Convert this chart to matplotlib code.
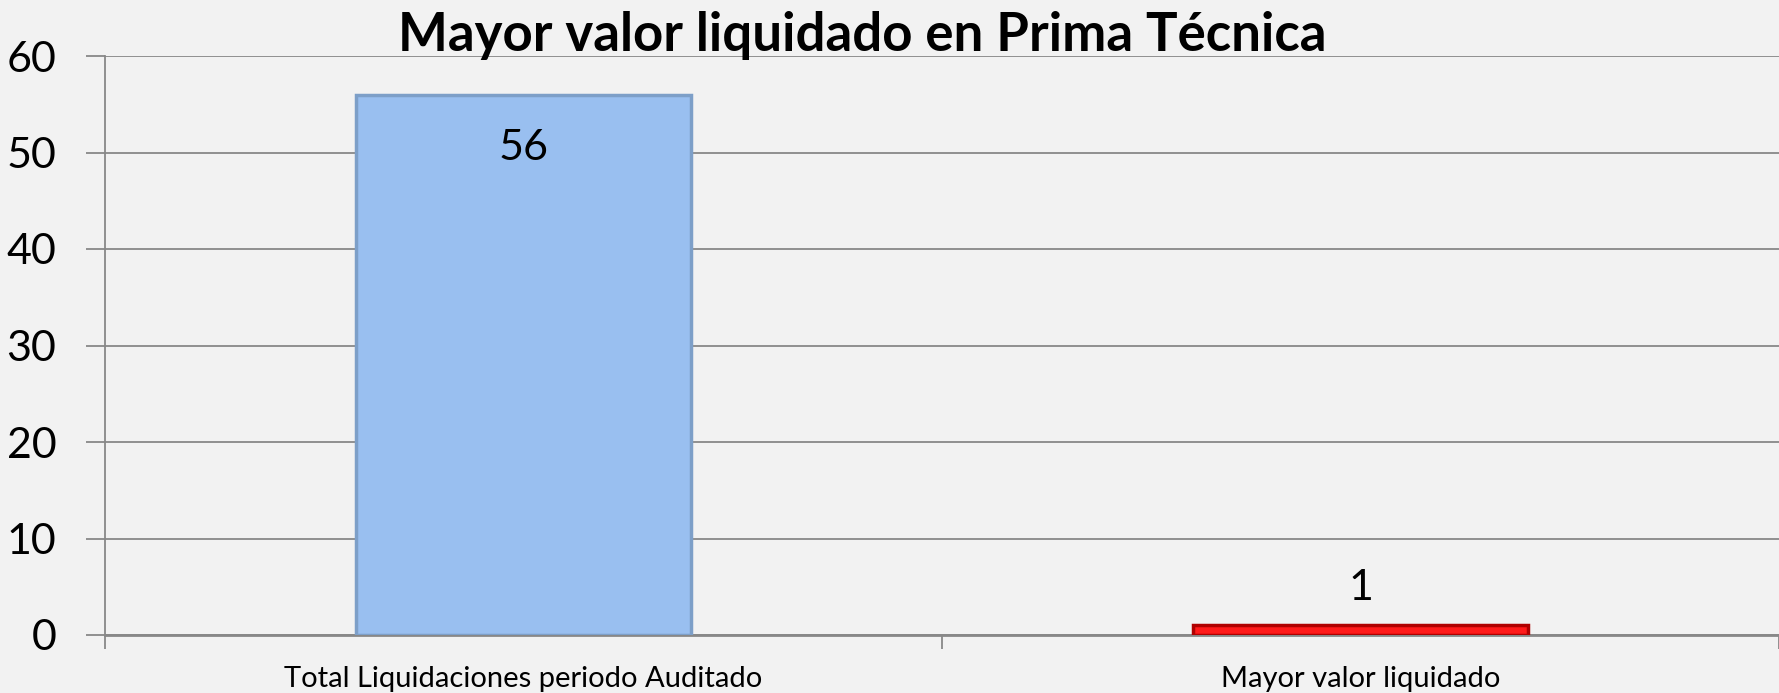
import matplotlib.pyplot as plt
import numpy as np

categorias = ['Total Liquidaciones periodo Auditado', 'Mayor valor liquidado']
valores = [56, 1]
colores = ['#99bff0', '#ff1a1a']
bordes = ['#7d9fc8', '#b00000']

plt.rcParams['font.family'] = ['Lato', 'DejaVu Sans']

fig = plt.figure(figsize=(17.79, 6.93), dpi=100)
fig.patch.set_facecolor('#f2f2f2')
ax = fig.add_axes([105/1779, 1-635/693, 1-105/1779, (635-56)/693])
ax.set_facecolor('#f2f2f2')

x = np.arange(len(categorias))
barras = ax.bar(x, valores, width=0.4, color=colores, edgecolor=bordes, linewidth=2.5, zorder=3)

# etiquetas de datos
ax.text(x[0], valores[0] - 5.5, str(valores[0]), ha='center', va='center', fontsize=31, zorder=4)
ax.text(x[1], valores[1] + 3.9, str(valores[1]), ha='center', va='center', fontsize=31, zorder=4)

ax.set_xlim(-0.5, 1.5)
ax.set_ylim(0, 60)
ax.set_yticks(range(0, 61, 10))
ax.tick_params(axis='y', labelsize=31, length=14, color='#888888', pad=21, width=1.3)
ax.set_xticks([-0.5, 0.5, 1.5])
ax.set_xticklabels([])
ax.set_xticks(x, minor=True)
ax.set_xticklabels(categorias, minor=True, fontsize=21)
ax.tick_params(axis='x', which='major', length=10, color='#888888', width=1.3, direction='out')
ax.tick_params(axis='x', which='minor', length=0, pad=22)

ax.grid(axis='y', color='#888888', linewidth=1.3, zorder=0)
for s in ['top', 'right']:
    ax.spines[s].set_visible(False)
ax.spines['left'].set_color('#888888')
ax.spines['left'].set_linewidth(1.3)
ax.spines['bottom'].set_color('#888888')
ax.spines['bottom'].set_linewidth(2)

fig.text(862/1779, 1-36/693, 'Mayor valor liquidado en Prima Técnica', ha='center', va='center',
         fontsize=38, fontweight='bold')

fig.savefig('out.png', dpi=100, facecolor=fig.get_facecolor())
